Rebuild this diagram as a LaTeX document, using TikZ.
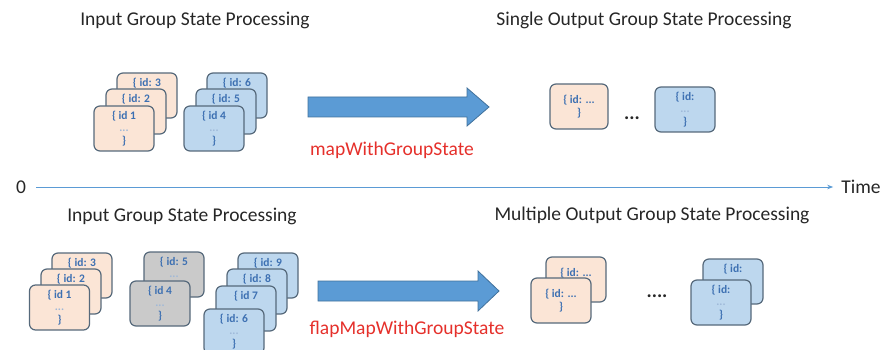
\documentclass[tikz,border=0pt]{standalone}
\usepackage{fontspec}
\setmainfont{Carlito}
\usetikzlibrary{arrows.meta}

\definecolor{peach}{HTML}{FBE5D6}
\definecolor{skyfill}{HTML}{BDD7EE}
\definecolor{greyfill}{HTML}{CACACA}
\definecolor{cardedge}{HTML}{56697B}
\definecolor{cardink}{HTML}{3D70B2}
\definecolor{arrowfill}{HTML}{5B9BD5}
\definecolor{arrowedge}{HTML}{41719C}
\definecolor{opred}{HTML}{E5302B}
\definecolor{titleink}{HTML}{262626}

\newcommand\headfont{\fontsize{19.5}{23}\selectfont}
\newcommand\cardfont{\fontsize{11.5}{12.5}\selectfont\bfseries}
\newcommand\dimdots{\textcolor{cardink!50}{...}}

\tikzset{
  card/.style={draw=cardedge, line width=1.2pt, rounded corners=6pt,
    minimum width=60pt, minimum height=45pt, inner sep=0pt,
    align=center, text=cardink, font=\cardfont},
  peachcard/.style={card, fill=peach},
  skycard/.style={card, fill=skyfill},
  greycard/.style={card, fill=greyfill},
  heading/.style={font=\headfont, text=titleink, inner sep=0pt},
  opname/.style={font=\headfont, text=opred, inner sep=0pt},
  gap/.style={font=\headfont\bfseries, text=titleink, inner sep=0pt},
  bigarrow/.style={fill=arrowfill, draw=arrowedge, line width=0.8pt, line join=miter},
  timeline/.style={draw=arrowfill, line width=0.9pt,
    -{Stealth[length=6pt,width=4.5pt]}},
}

\begin{document}
\begin{tikzpicture}[x=1pt, y=-1pt]
  \useasboundingbox (0,0) rectangle (894,350);

  % ---------- upper half: one output per group ----------
  \node[heading] (inTitleA) at (195,20) {Input Group State Processing};
  \node[heading] (outTitleA) at (644,20) {Single Output Group State Processing};

  % first group of input states
  \node[peachcard] (a3) at (147,95.5)  {\{ id: 3\\\phantom{...}\\\phantom{\}}};
  \node[peachcard] (a2) at (136,111.5) {\{ id: 2\\\phantom{...}\\\phantom{\}}};
  \node[peachcard] (a1) at (124,128.5) {\{ id 1\\\dimdots\\\}};

  % second group of input states
  \node[skycard] (a6) at (237,95.5)  {\{ id: 6\\\phantom{...}\\\phantom{\}}};
  \node[skycard] (a5) at (226,111.5) {\{ id: 5\\\phantom{...}\\\phantom{\}}};
  \node[skycard] (a4) at (214,128.5) {\{ id 4\\\dimdots\\\}};

  % operator arrow
  \draw[bigarrow] (308,97) -- (467,97) -- (467,88) -- (489,107)
    -- (467,126) -- (467,117) -- (308,117) -- cycle;
  \node[opname] (opA) at (392,150) {mapWithGroupState};

  % single outputs
  \node[peachcard, minimum width=58pt] (ra) at (579,106.5) {\{ id: ...\\\}};
  \node[gap] (gapA) at (632,118) {...};
  \node[skycard] (rb) at (685,109.5) {\{ id:\\\dimdots\\\}};

  % ---------- time axis ----------
  \node[heading] (zero) at (21,187) {0};
  \node[heading] (time) at (861,187) {Time};
  \draw[timeline, shorten <=10pt, shorten >=8pt]
    (zero.east) -- (zero.east -| time.west);

  % ---------- lower half: several outputs per group ----------
  \node[heading] (inTitleB) at (182,216) {Input Group State Processing};
  \node[heading] (outTitleB) at (652,215) {Multiple Output Group State Processing};

  % first group
  \node[peachcard] (b3) at (82,275.5)  {\{ id: 3\\\phantom{...}\\\phantom{\}}};
  \node[peachcard] (b2) at (71,291.5)  {\{ id: 2\\\phantom{...}\\\phantom{\}}};
  \node[peachcard] (b1) at (59.5,307.5) {\{ id 1\\\dimdots\\\}};

  % timed-out group
  \node[greycard] (b5) at (174,274.5) {\{ id: 5\\\dimdots\\\phantom{\}}};
  \node[greycard] (b4) at (160,303.5) {\{ id 4\\\dimdots\\\}};

  % third group
  \node[skycard] (b9) at (268,275.5) {\{ id: 9\\\phantom{...}\\\phantom{\}}};
  \node[skycard] (b8) at (257,291.5) {\{ id: 8\\\phantom{...}\\\phantom{\}}};
  \node[skycard] (b7) at (246,308.5) {\{ id 7\\\phantom{...}\\\phantom{\}}};
  \node[skycard] (b6) at (234,331.5) {\{ id: 6\\\dimdots\\\}};

  % operator arrow
  \draw[bigarrow] (318,281) -- (478,281) -- (478,271) -- (499,291)
    -- (478,311) -- (478,301) -- (318,301) -- cycle;
  \node[opname] (opB) at (407,329) {flapMapWithGroupState};

  % multiple outputs
  \node[peachcard] (rc2) at (576,279.5) {\{ id: ...\\\phantom{\}}};
  \node[peachcard] (rc1) at (561,300.5) {\{ id: ...\\\}};
  \node[gap] (gapB) at (657,296) {....};
  \node[skycard] (rd2) at (733,281.5) {\{ id:\\\phantom{...}\\\phantom{\}}};
  \node[skycard] (rd1) at (721,302.5) {\{ id:\\\dimdots\\\}};
\end{tikzpicture}
\end{document}
